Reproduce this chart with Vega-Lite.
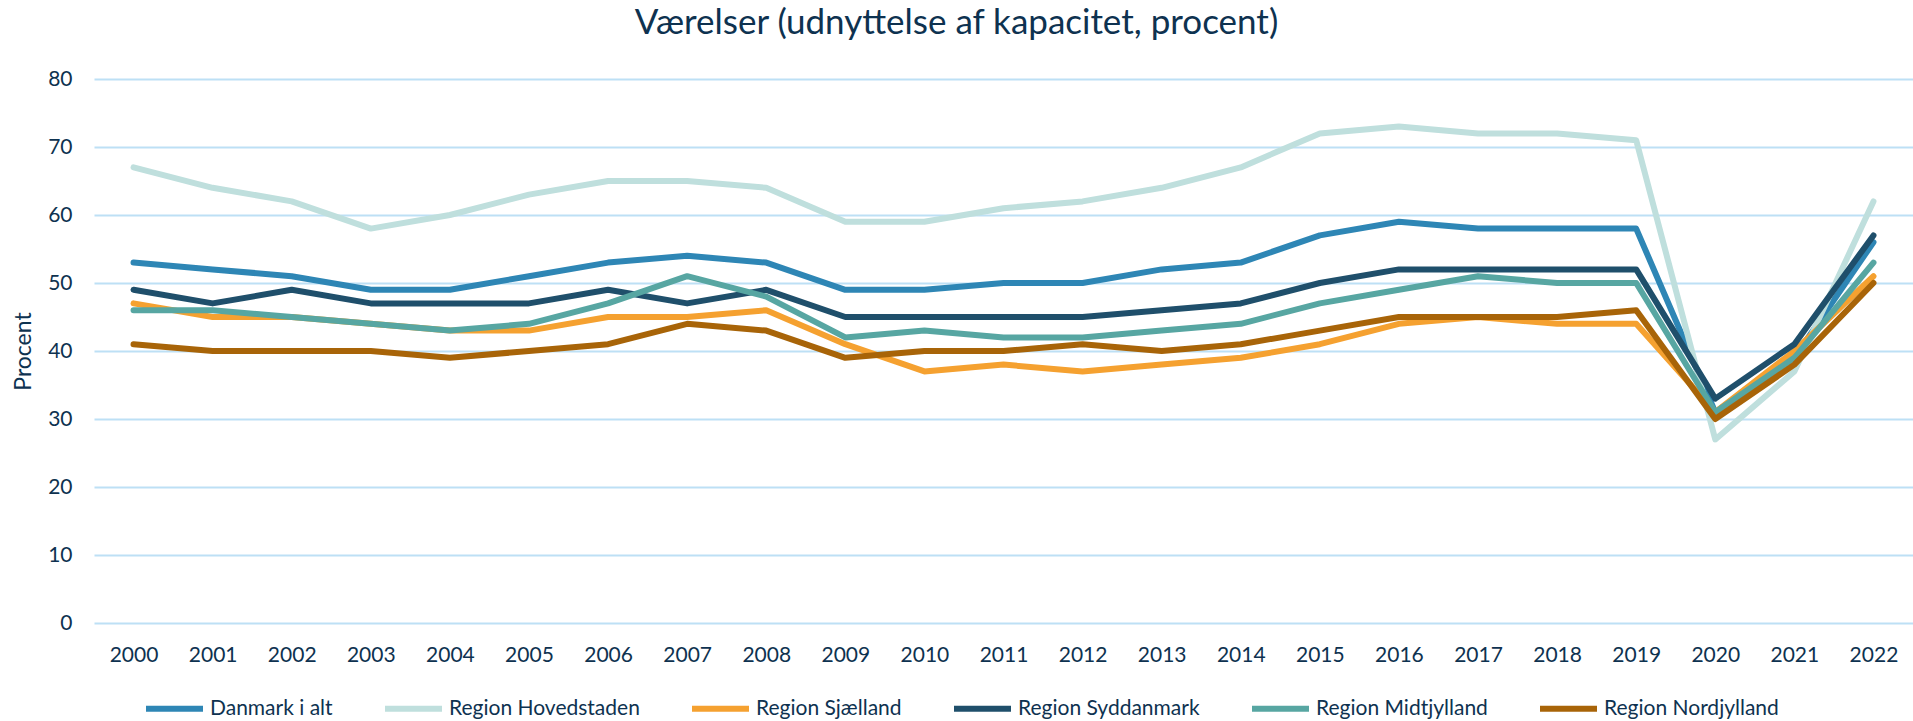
{
  "$schema": "https://vega.github.io/schema/vega-lite/v6.json",
  "width": 1819,
  "height": 544,
  "autosize": {"type": "none"},
  "padding": {"left": 94, "top": 79, "right": 0, "bottom": 98},
  "background": "white",
  "title": {
    "text": "Værelser (udnyttelse af kapacitet, procent)",
    "font": "Lato",
    "fontSize": 35,
    "fontWeight": "normal",
    "color": "#0E3250",
    "anchor": "middle",
    "dx": -47,
    "offset": 27
  },
  "config": {
    "view": {"stroke": null},
    "font": "Lato"
  },
  "data": {
    "values": [
      {"year": "2000", "region": "Danmark i alt", "value": 53},
      {"year": "2001", "region": "Danmark i alt", "value": 52},
      {"year": "2002", "region": "Danmark i alt", "value": 51},
      {"year": "2003", "region": "Danmark i alt", "value": 49},
      {"year": "2004", "region": "Danmark i alt", "value": 49},
      {"year": "2005", "region": "Danmark i alt", "value": 51},
      {"year": "2006", "region": "Danmark i alt", "value": 53},
      {"year": "2007", "region": "Danmark i alt", "value": 54},
      {"year": "2008", "region": "Danmark i alt", "value": 53},
      {"year": "2009", "region": "Danmark i alt", "value": 49},
      {"year": "2010", "region": "Danmark i alt", "value": 49},
      {"year": "2011", "region": "Danmark i alt", "value": 50},
      {"year": "2012", "region": "Danmark i alt", "value": 50},
      {"year": "2013", "region": "Danmark i alt", "value": 52},
      {"year": "2014", "region": "Danmark i alt", "value": 53},
      {"year": "2015", "region": "Danmark i alt", "value": 57},
      {"year": "2016", "region": "Danmark i alt", "value": 59},
      {"year": "2017", "region": "Danmark i alt", "value": 58},
      {"year": "2018", "region": "Danmark i alt", "value": 58},
      {"year": "2019", "region": "Danmark i alt", "value": 58},
      {"year": "2020", "region": "Danmark i alt", "value": 31},
      {"year": "2021", "region": "Danmark i alt", "value": 39},
      {"year": "2022", "region": "Danmark i alt", "value": 56},

      {"year": "2000", "region": "Region Hovedstaden", "value": 67},
      {"year": "2001", "region": "Region Hovedstaden", "value": 64},
      {"year": "2002", "region": "Region Hovedstaden", "value": 62},
      {"year": "2003", "region": "Region Hovedstaden", "value": 58},
      {"year": "2004", "region": "Region Hovedstaden", "value": 60},
      {"year": "2005", "region": "Region Hovedstaden", "value": 63},
      {"year": "2006", "region": "Region Hovedstaden", "value": 65},
      {"year": "2007", "region": "Region Hovedstaden", "value": 65},
      {"year": "2008", "region": "Region Hovedstaden", "value": 64},
      {"year": "2009", "region": "Region Hovedstaden", "value": 59},
      {"year": "2010", "region": "Region Hovedstaden", "value": 59},
      {"year": "2011", "region": "Region Hovedstaden", "value": 61},
      {"year": "2012", "region": "Region Hovedstaden", "value": 62},
      {"year": "2013", "region": "Region Hovedstaden", "value": 64},
      {"year": "2014", "region": "Region Hovedstaden", "value": 67},
      {"year": "2015", "region": "Region Hovedstaden", "value": 72},
      {"year": "2016", "region": "Region Hovedstaden", "value": 73},
      {"year": "2017", "region": "Region Hovedstaden", "value": 72},
      {"year": "2018", "region": "Region Hovedstaden", "value": 72},
      {"year": "2019", "region": "Region Hovedstaden", "value": 71},
      {"year": "2020", "region": "Region Hovedstaden", "value": 27},
      {"year": "2021", "region": "Region Hovedstaden", "value": 37},
      {"year": "2022", "region": "Region Hovedstaden", "value": 62},

      {"year": "2000", "region": "Region Sjælland", "value": 47},
      {"year": "2001", "region": "Region Sjælland", "value": 45},
      {"year": "2002", "region": "Region Sjælland", "value": 45},
      {"year": "2003", "region": "Region Sjælland", "value": 44},
      {"year": "2004", "region": "Region Sjælland", "value": 43},
      {"year": "2005", "region": "Region Sjælland", "value": 43},
      {"year": "2006", "region": "Region Sjælland", "value": 45},
      {"year": "2007", "region": "Region Sjælland", "value": 45},
      {"year": "2008", "region": "Region Sjælland", "value": 46},
      {"year": "2009", "region": "Region Sjælland", "value": 41},
      {"year": "2010", "region": "Region Sjælland", "value": 37},
      {"year": "2011", "region": "Region Sjælland", "value": 38},
      {"year": "2012", "region": "Region Sjælland", "value": 37},
      {"year": "2013", "region": "Region Sjælland", "value": 38},
      {"year": "2014", "region": "Region Sjælland", "value": 39},
      {"year": "2015", "region": "Region Sjælland", "value": 41},
      {"year": "2016", "region": "Region Sjælland", "value": 44},
      {"year": "2017", "region": "Region Sjælland", "value": 45},
      {"year": "2018", "region": "Region Sjælland", "value": 44},
      {"year": "2019", "region": "Region Sjælland", "value": 44},
      {"year": "2020", "region": "Region Sjælland", "value": 31},
      {"year": "2021", "region": "Region Sjælland", "value": 40},
      {"year": "2022", "region": "Region Sjælland", "value": 51},

      {"year": "2000", "region": "Region Syddanmark", "value": 49},
      {"year": "2001", "region": "Region Syddanmark", "value": 47},
      {"year": "2002", "region": "Region Syddanmark", "value": 49},
      {"year": "2003", "region": "Region Syddanmark", "value": 47},
      {"year": "2004", "region": "Region Syddanmark", "value": 47},
      {"year": "2005", "region": "Region Syddanmark", "value": 47},
      {"year": "2006", "region": "Region Syddanmark", "value": 49},
      {"year": "2007", "region": "Region Syddanmark", "value": 47},
      {"year": "2008", "region": "Region Syddanmark", "value": 49},
      {"year": "2009", "region": "Region Syddanmark", "value": 45},
      {"year": "2010", "region": "Region Syddanmark", "value": 45},
      {"year": "2011", "region": "Region Syddanmark", "value": 45},
      {"year": "2012", "region": "Region Syddanmark", "value": 45},
      {"year": "2013", "region": "Region Syddanmark", "value": 46},
      {"year": "2014", "region": "Region Syddanmark", "value": 47},
      {"year": "2015", "region": "Region Syddanmark", "value": 50},
      {"year": "2016", "region": "Region Syddanmark", "value": 52},
      {"year": "2017", "region": "Region Syddanmark", "value": 52},
      {"year": "2018", "region": "Region Syddanmark", "value": 52},
      {"year": "2019", "region": "Region Syddanmark", "value": 52},
      {"year": "2020", "region": "Region Syddanmark", "value": 33},
      {"year": "2021", "region": "Region Syddanmark", "value": 41},
      {"year": "2022", "region": "Region Syddanmark", "value": 57},

      {"year": "2000", "region": "Region Midtjylland", "value": 46},
      {"year": "2001", "region": "Region Midtjylland", "value": 46},
      {"year": "2002", "region": "Region Midtjylland", "value": 45},
      {"year": "2003", "region": "Region Midtjylland", "value": 44},
      {"year": "2004", "region": "Region Midtjylland", "value": 43},
      {"year": "2005", "region": "Region Midtjylland", "value": 44},
      {"year": "2006", "region": "Region Midtjylland", "value": 47},
      {"year": "2007", "region": "Region Midtjylland", "value": 51},
      {"year": "2008", "region": "Region Midtjylland", "value": 48},
      {"year": "2009", "region": "Region Midtjylland", "value": 42},
      {"year": "2010", "region": "Region Midtjylland", "value": 43},
      {"year": "2011", "region": "Region Midtjylland", "value": 42},
      {"year": "2012", "region": "Region Midtjylland", "value": 42},
      {"year": "2013", "region": "Region Midtjylland", "value": 43},
      {"year": "2014", "region": "Region Midtjylland", "value": 44},
      {"year": "2015", "region": "Region Midtjylland", "value": 47},
      {"year": "2016", "region": "Region Midtjylland", "value": 49},
      {"year": "2017", "region": "Region Midtjylland", "value": 51},
      {"year": "2018", "region": "Region Midtjylland", "value": 50},
      {"year": "2019", "region": "Region Midtjylland", "value": 50},
      {"year": "2020", "region": "Region Midtjylland", "value": 31},
      {"year": "2021", "region": "Region Midtjylland", "value": 39},
      {"year": "2022", "region": "Region Midtjylland", "value": 53},

      {"year": "2000", "region": "Region Nordjylland", "value": 41},
      {"year": "2001", "region": "Region Nordjylland", "value": 40},
      {"year": "2002", "region": "Region Nordjylland", "value": 40},
      {"year": "2003", "region": "Region Nordjylland", "value": 40},
      {"year": "2004", "region": "Region Nordjylland", "value": 39},
      {"year": "2005", "region": "Region Nordjylland", "value": 40},
      {"year": "2006", "region": "Region Nordjylland", "value": 41},
      {"year": "2007", "region": "Region Nordjylland", "value": 44},
      {"year": "2008", "region": "Region Nordjylland", "value": 43},
      {"year": "2009", "region": "Region Nordjylland", "value": 39},
      {"year": "2010", "region": "Region Nordjylland", "value": 40},
      {"year": "2011", "region": "Region Nordjylland", "value": 40},
      {"year": "2012", "region": "Region Nordjylland", "value": 41},
      {"year": "2013", "region": "Region Nordjylland", "value": 40},
      {"year": "2014", "region": "Region Nordjylland", "value": 41},
      {"year": "2015", "region": "Region Nordjylland", "value": 43},
      {"year": "2016", "region": "Region Nordjylland", "value": 45},
      {"year": "2017", "region": "Region Nordjylland", "value": 45},
      {"year": "2018", "region": "Region Nordjylland", "value": 45},
      {"year": "2019", "region": "Region Nordjylland", "value": 46},
      {"year": "2020", "region": "Region Nordjylland", "value": 30},
      {"year": "2021", "region": "Region Nordjylland", "value": 38},
      {"year": "2022", "region": "Region Nordjylland", "value": 50}
    ]
  },
  "mark": {"type": "line", "strokeWidth": 6, "strokeJoin": "round", "strokeCap": "round"},
  "encoding": {
    "x": {
      "field": "year",
      "type": "ordinal",
      "scale": {"type": "point", "padding": 0.5},
      "axis": {
        "title": null,
        "labelAngle": 0,
        "labelFont": "Lato",
        "labelFontSize": 21,
        "labelColor": "#0E3250",
        "labelPadding": 21,
        "domain": false,
        "ticks": false,
        "grid": false
      }
    },
    "y": {
      "field": "value",
      "type": "quantitative",
      "scale": {"domain": [0, 80], "nice": false},
      "axis": {
        "title": "Procent",
        "titleFont": "Lato",
        "titleFontSize": 23,
        "titleFontWeight": "normal",
        "titleColor": "#0E3250",
        "titlePadding": 12,
        "values": [0, 10, 20, 30, 40, 50, 60, 70, 80],
        "labelFont": "Lato",
        "labelFontSize": 21,
        "labelColor": "#0E3250",
        "labelPadding": 22,
        "domain": false,
        "ticks": false,
        "grid": true,
        "gridColor": "#BDE0F5",
        "gridWidth": 2
      }
    },
    "color": {
      "field": "region",
      "type": "nominal",
      "sort": ["Danmark i alt", "Region Hovedstaden", "Region Sjælland", "Region Syddanmark", "Region Midtjylland", "Region Nordjylland"],
      "scale": {
        "domain": ["Danmark i alt", "Region Hovedstaden", "Region Sjælland", "Region Syddanmark", "Region Midtjylland", "Region Nordjylland"],
        "range": ["#2E86B5", "#BFDFDD", "#F5A130", "#1F4F6B", "#57A6A2", "#A86408"]
      },
      "legend": {
        "title": null,
        "orient": "none",
        "direction": "horizontal",
        "legendX": 49,
        "legendY": 598,
        "symbolType": "stroke",
        "symbolSize": 3249,
        "symbolStrokeWidth": 6,
        "labelFont": "Lato",
        "labelFontSize": 21,
        "labelColor": "#0E3250",
        "labelOffset": 4,
        "columnPadding": 40,
        "labelLimit": 400
      }
    }
  }
}
